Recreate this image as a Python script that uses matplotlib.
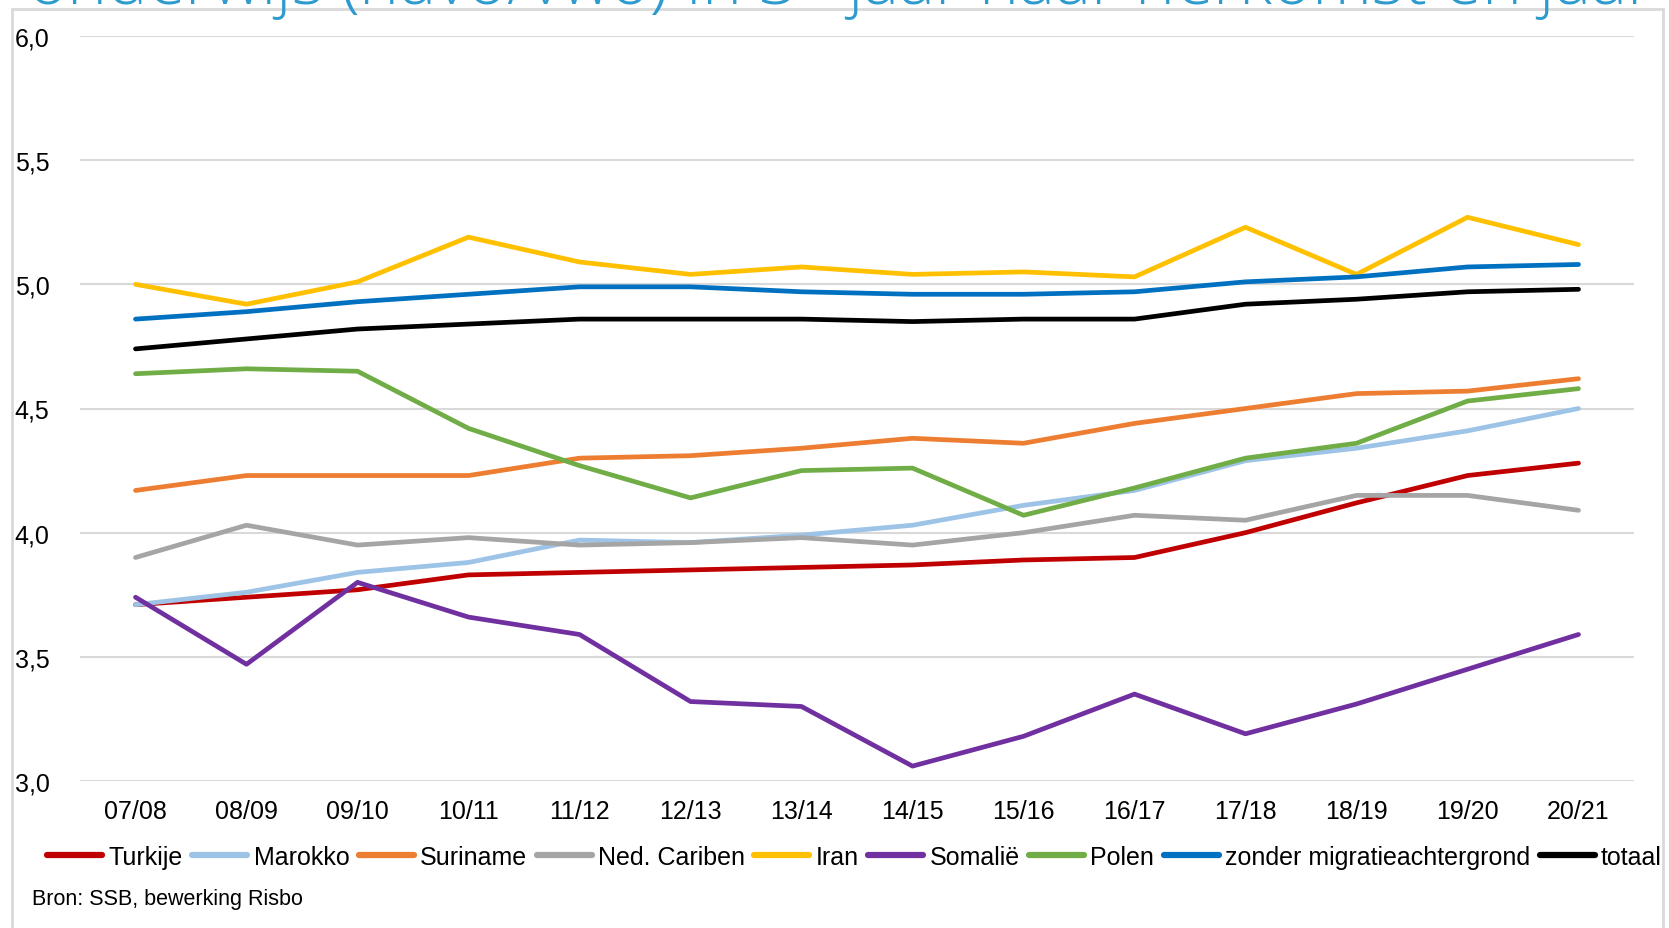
import matplotlib
matplotlib.use("Agg")
import matplotlib.pyplot as plt
from matplotlib.patches import Rectangle
from matplotlib.ticker import FuncFormatter

plt.rcParams["font.family"] = ["Liberation Sans", "DejaVu Sans"]

# Data
years = ["07/08", "08/09", "09/10", "10/11", "11/12", "12/13", "13/14",
         "14/15", "15/16", "16/17", "17/18", "18/19", "19/20", "20/21"]
turkije = [3.71, 3.74, 3.77, 3.83, 3.84, 3.85, 3.86, 3.87, 3.89, 3.90, 4.00, 4.12, 4.23, 4.28]
marokko = [3.71, 3.76, 3.84, 3.88, 3.97, 3.96, 3.99, 4.03, 4.11, 4.17, 4.29, 4.34, 4.41, 4.50]
suriname = [4.17, 4.23, 4.23, 4.23, 4.30, 4.31, 4.34, 4.38, 4.36, 4.44, 4.50, 4.56, 4.57, 4.62]
ned_cariben = [3.90, 4.03, 3.95, 3.98, 3.95, 3.96, 3.98, 3.95, 4.00, 4.07, 4.05, 4.15, 4.15, 4.09]
iran = [5.00, 4.92, 5.01, 5.19, 5.09, 5.04, 5.07, 5.04, 5.05, 5.03, 5.23, 5.04, 5.27, 5.16]
somalie = [3.74, 3.47, 3.80, 3.66, 3.59, 3.32, 3.30, 3.06, 3.18, 3.35, 3.19, 3.31, 3.45, 3.59]
polen = [4.64, 4.66, 4.65, 4.42, 4.27, 4.14, 4.25, 4.26, 4.07, 4.18, 4.30, 4.36, 4.53, 4.58]
zonder = [4.86, 4.89, 4.93, 4.96, 4.99, 4.99, 4.97, 4.96, 4.96, 4.97, 5.01, 5.03, 5.07, 5.08]
totaal = [4.74, 4.78, 4.82, 4.84, 4.86, 4.86, 4.86, 4.85, 4.86, 4.86, 4.92, 4.94, 4.97, 4.98]

series = [
    ("Turkije", turkije, "#C00000"),
    ("Marokko", marokko, "#9DC3E6"),
    ("Suriname", suriname, "#ED7D31"),
    ("Ned. Cariben", ned_cariben, "#A5A5A5"),
    ("Iran", iran, "#FFC000"),
    ("Somalië", somalie, "#7030A0"),
    ("Polen", polen, "#70AD47"),
    ("zonder migratieachtergrond", zonder, "#0070C0"),
    ("totaal", totaal, "#000000"),
]

fig = plt.figure(figsize=(16.69, 9.29), dpi=100)
ax = fig.add_axes([80 / 1669, 1 - 782 / 929, 1554 / 1669, 745 / 929])

x = range(len(years))
for name, vals, col in series:
    ax.plot(x, vals, color=col, lw=3.4, label=name, solid_capstyle="round")

ax.set_xlim(-0.5, len(years) - 0.5)
ax.set_ylim(3.0, 6.0)
ax.set_yticks([3.0, 3.5, 4.0, 4.5, 5.0, 5.5, 6.0])
ax.yaxis.set_major_formatter(FuncFormatter(lambda v, p: f"{v:.1f}".replace(".", ",")))
ax.set_xticks(list(x))
ax.set_xticklabels(years)
ax.tick_params(length=0, labelsize=18, colors="#000000")
ax.tick_params(axis="x", pad=13)
ax.tick_params(axis="y", pad=22)
ax.grid(axis="y", color="#D9D9D9", lw=1.5)
ax.set_axisbelow(True)
for s in ax.spines.values():
    s.set_visible(False)

leg = fig.legend(loc="center", bbox_to_anchor=(0.512, 1 - 858 / 929), ncol=9,
                 frameon=False, fontsize=18, handlelength=2.2, handletextpad=0.25,
                 columnspacing=0.38, borderaxespad=0)
for line in leg.get_lines():
    line.set_linewidth(4.5)

fig.text(32 / 1669, 1 - 900 / 929, "Bron: SSB, bewerking Risbo", fontsize=15.5,
         va="center", ha="left")

# Chart frame
fig.patches.append(Rectangle((12 / 1669, -0.05), 1651 / 1669, 1.05 - 10 / 929,
                             transform=fig.transFigure, fill=False,
                             edgecolor="#D9D9D9", lw=2))

# Title (cut off at the top in the original)
fig.text(27 / 1669, 1 - 5 / 929,
         r"onderwijs (havo/vwo) in 3$^{\mathrm{e}}$ jaar naar herkomst en jaar",
         fontsize=49, color="#2E9BCF", va="baseline", ha="left",
         family="Open Sans", fontweight="light")

fig.savefig("out.png", dpi=100)
